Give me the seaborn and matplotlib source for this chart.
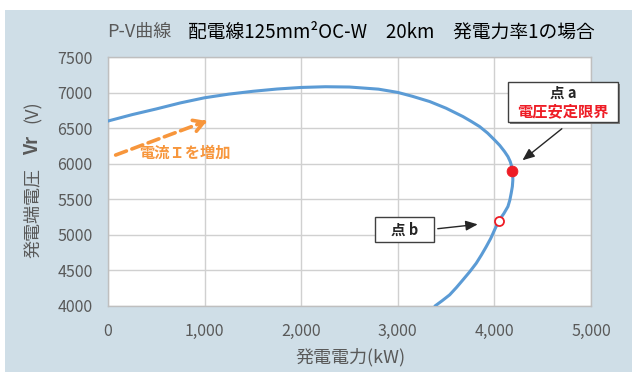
import numpy as np
import pandas as pd
import matplotlib
matplotlib.use('Agg')
import matplotlib.pyplot as plt
import matplotlib.ticker as mticker
from matplotlib.patches import Rectangle
import seaborn as sns

# P-V curve (kW, V), upper branch -> nose -> lower branch
power_kw = [0, 250, 500, 750, 1000, 1250, 1500, 1750, 2000, 2250, 2500, 2800, 3000,
            3150, 3330, 3500, 3674, 3760, 3847, 3930, 4000, 4055, 4105, 4140, 4164,
            4178, 4185, 4190, 4191, 4186, 4174, 4160, 4140, 4098, 4047, 4002, 3962,
            3916, 3866, 3812, 3745, 3674, 3607, 3537, 3460, 3385]
voltage_v = [6600, 6690, 6770, 6855, 6927, 6978, 7018, 7050, 7072, 7082, 7078, 7048, 7002,
             6948, 6874, 6780, 6663, 6595, 6522, 6430, 6336, 6258, 6171, 6100, 6030,
             5965, 5904, 5840, 5773, 5680, 5586, 5490, 5398, 5300, 5201, 5070, 4950,
             4835, 4718, 4601, 4482, 4367, 4260, 4157, 4075, 4000]

point_a = (4185, 5904)
point_b = (4047, 5201)

x_ticks = [0, 1000, 2000, 3000, 4000, 5000]
y_ticks = [4000, 4500, 5000, 5500, 6000, 6500, 7000, 7500]

sns.set_theme(style='whitegrid')
plt.rcParams['font.family'] = ['Noto Sans CJK JP', 'DejaVu Sans']

W, H = 638, 376
fig = plt.figure(figsize=(W / 100, H / 100), dpi=100, facecolor='white')
# light blue chart panel
fig.patches.append(Rectangle((5 / W, 4 / H), 627 / W, 362 / H, transform=fig.transFigure,
                             facecolor='#cfdee7', edgecolor='none', zorder=-10))

ax = fig.add_axes([108 / W, 1 - 306 / H, (591 - 108) / W, (306 - 57) / H])
ax.set_facecolor('white')

df = pd.DataFrame({'P': power_kw, 'V': voltage_v})
sns.lineplot(data=df, x='P', y='V', sort=False, estimator=None, color='#5b9bd5',
             linewidth=2.2, ax=ax, zorder=3)

sns.scatterplot(x=[point_a[0]], y=[point_a[1]], color='#ee1c25', s=60, edgecolor='#ee1c25',
                ax=ax, zorder=5)
ax.plot(point_b[0], point_b[1], 'o', markersize=6.5, markerfacecolor='white',
        markeredgecolor='#ee1c25', markeredgewidth=1.3, zorder=5)

ax.set_xlim(0, 5000)
ax.set_ylim(4000, 7500)
ax.set_xticks(x_ticks)
ax.set_yticks(y_ticks)
ax.xaxis.set_major_formatter(mticker.FuncFormatter(lambda v, p: f'{int(v):,}'))
ax.tick_params(axis='x', colors='#595959', labelsize=11.5, pad=12, length=0)
ax.tick_params(axis='y', colors='#595959', labelsize=11.5, pad=11, length=0)
ax.grid(True, color='#d0d0d0', linewidth=1)
for s in ax.spines.values():
    s.set_color('#bfbfbf')
    s.set_linewidth(1)
ax.set_xlabel('')
ax.set_ylabel('')

# title: grey part + black part
fig.text(107 / W, 1 - 32 / H, 'P-V曲線', color='#595959', fontsize=13, va='center', ha='left')
fig.text(188 / W, 1 - 32 / H, '配電線125mm²OC-W\u300020km\u3000発電力率1の場合', color='black',
         fontsize=13.5, va='center', ha='left')

# axis labels
fig.text(350 / W, 1 - 357 / H, '発電電力(kW)', color='#595959', fontsize=13, ha='center', va='center')
fig.text(33 / W, 1 - 213 / H, '発電端電圧', color='#595959', fontsize=13, rotation=90,
         ha='center', va='center')
fig.text(33 / W, 1 - 145 / H, 'Vr', color='#595959', fontsize=13, fontweight='bold', rotation=90,
         ha='center', va='center')
fig.text(33 / W, 1 - 112 / H, '(V)', color='#595959', fontsize=13, rotation=90,
         ha='center', va='center')

# orange dashed arrow "current increasing"
orange = '#f7963c'
ax.annotate('', xy=(1000, 6590), xytext=(52, 6108),
            arrowprops=dict(arrowstyle='-', color=orange, lw=2.6, linestyle=(0, (3.2, 1.6))))
ax.annotate('', xy=(1052, 6614), xytext=(960, 6567),
            arrowprops=dict(arrowstyle='->,head_length=0.6,head_width=0.35', color=orange, lw=2.6))
ax.text(794, 6150, '電流Ｉを増加', color=orange, fontsize=11, fontweight='bold',
        ha='center', va='center')

# label box for point a
fig.patches.append(Rectangle((510 / W, 1 - 124 / H), 110 / W, 40 / H, transform=fig.transFigure,
                             facecolor='#808080', edgecolor='none', zorder=8))
fig.patches.append(Rectangle((508 / W, 1 - 122 / H), 110 / W, 40 / H, transform=fig.transFigure,
                             facecolor='white', edgecolor='#404040', linewidth=1, zorder=9))
fig.text(563 / W, 1 - 93 / H, '点 a', color='#262626', fontsize=10.5, fontweight='bold',
         ha='center', va='center', zorder=10)
fig.text(563 / W, 1 - 111 / H, '電圧安定限界', color='#ee1c25', fontsize=11, fontweight='bold',
         ha='center', va='center', zorder=10)
ax.annotate('', xy=(4268, 6024), xycoords='data', xytext=(564, H - 127), textcoords='figure pixels',
            arrowprops=dict(arrowstyle='-|>,head_length=0.6,head_width=0.25', color='#262626', lw=1))

# label box for point b
fig.patches.append(Rectangle((375 / W, 1 - 242 / H), 59 / W, 25 / H, transform=fig.transFigure,
                             facecolor='white', edgecolor='#404040', linewidth=1, zorder=9))
fig.text(405 / W, 1 - 230 / H, '点 b', color='#262626', fontsize=10.5, fontweight='bold',
         ha='center', va='center', zorder=10)
ax.annotate('', xy=(3856, 5152), xycoords='data', xytext=(435, H - 229), textcoords='figure pixels',
            arrowprops=dict(arrowstyle='-|>,head_length=0.6,head_width=0.25', color='#262626', lw=1))

fig.savefig('out.png', dpi=100, facecolor='white')
